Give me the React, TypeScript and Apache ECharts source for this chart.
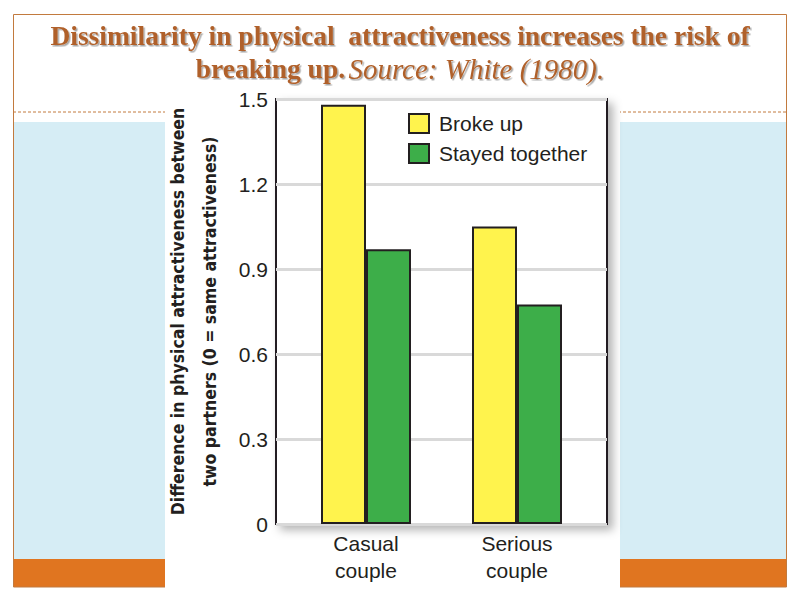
import React, { useEffect, useRef } from "react";
import * as echarts from "echarts";

const categories = ["Casual\ncouple", "Serious\ncouple"];
const brokeUp = [1.48, 1.05];
const stayedTogether = [0.97, 0.775];
const seriesNames = ["Broke up", "Stayed together"];
const yTicks = { min: 0, max: 1.5, interval: 0.3 };
const titleLine1 = "Dissimilarity in physical  attractiveness increases the risk of";
const titleLine2Bold = "breaking up.";
const titleLine2Italic = "Source: White (1980).";
const yAxisName = "Difference in physical attractiveness between\ntwo partners (0 = same attractiveness)";

const SANS = "'Liberation Sans', Arial, sans-serif";
const NARROW = "'DejaVu Sans Condensed', 'Liberation Sans', sans-serif";
const SERIF = "'Liberation Serif', 'DejaVu Serif', serif";
const TITLE_COLOR = "#b0612b";
const ORANGE_LINE = "#c27a3e";

export default function App() {
  const ref = useRef<HTMLDivElement>(null);
  useEffect(() => {
    if (!ref.current) return;
    const chart = echarts.init(ref.current, null, { renderer: "svg" });
    const shadow = {
      textShadowColor: "rgba(0,0,0,0.35)",
      textShadowOffsetX: 1.5,
      textShadowOffsetY: 1.5,
      textShadowBlur: 1.5,
    };
    chart.setOption({
      animation: false,
      backgroundColor: "#ffffff",
      graphic: [
        { type: "rect", z: -10, silent: true, shape: { x: 13, y: 122, width: 774, height: 437 }, style: { fill: "#d6edf5" } },
        { type: "rect", z: -10, silent: true, shape: { x: 13, y: 559, width: 774, height: 28 }, style: { fill: "#e07520" } },
        { type: "line", z: -10, silent: true, shape: { x1: 13, y1: 112, x2: 787, y2: 112 }, style: { stroke: ORANGE_LINE, lineWidth: 1, lineDash: [3, 2] } },
        { type: "rect", z: -10, silent: true, shape: { x: 13.5, y: 14.5, width: 773, height: 572.5 }, style: { fill: "none", stroke: ORANGE_LINE, lineWidth: 1 } },
        { type: "rect", z: -9, silent: true, shape: { x: 165, y: 88, width: 455, height: 512 }, style: { fill: "#ffffff" } },
        {
          type: "text",
          z: 10,
          silent: true,
          x: 400,
          y: 19,
          style: {
            text: `{b|${titleLine1}}\n{b|${titleLine2Bold}} {i|${titleLine2Italic}}`,
            align: "center",
            verticalAlign: "top",
            rich: {
              b: {
                fontFamily: SERIF,
                fontWeight: "bold",
                fontSize: 27.5,
                lineHeight: 33,
                fill: TITLE_COLOR,
                ...shadow,
              },
              i: {
                fontFamily: SERIF,
                fontStyle: "italic",
                fontSize: 29,
                lineHeight: 33,
                fill: TITLE_COLOR,
                ...shadow,
              },
            },
          },
        },
      ],
      legend: {
        left: 408,
        top: 113,
        orient: "vertical",
        itemWidth: 20,
        itemHeight: 19,
        itemGap: 9,
        padding: 0,
        icon: "rect",
        data: seriesNames,
        textStyle: { fontFamily: SANS, fontSize: 21, color: "#231f20", padding: [0, 0, 0, 5] },
      },
      grid: [
        {
          left: 276,
          top: 99,
          width: 331,
          height: 425,
          show: true,
          backgroundColor: "#ffffff",
          borderColor: "#231f20",
          borderWidth: 2,
          shadowColor: "rgba(0,0,0,0.3)",
          shadowBlur: 10,
          shadowOffsetX: 5,
          shadowOffsetY: 5,
        },
        { left: 290.5, top: 99, width: 302, height: 425 },
      ],
      xAxis: [
        { gridIndex: 0, type: "value", show: false, min: 0, max: 1 },
        {
          gridIndex: 1,
          type: "category",
          data: categories,
          axisLine: { show: false },
          axisTick: { show: false },
          axisLabel: {
            margin: 6,
            fontFamily: SANS,
            fontSize: 21,
            lineHeight: 27,
            color: "#231f20",
          },
        },
      ],
      yAxis: [
        {
          gridIndex: 0,
          type: "value",
          min: yTicks.min,
          max: yTicks.max,
          interval: yTicks.interval,
          axisLine: { show: false },
          axisTick: { show: false },
          axisLabel: {
            margin: 8,
            fontFamily: SANS,
            fontSize: 21,
            color: "#231f20",
            formatter: (v: number) => (v === 0 ? "0" : v.toFixed(1)),
          },
          splitLine: { show: true, lineStyle: { color: "#d9d9d9", width: 3 } },
          name: yAxisName,
          nameLocation: "middle",
          nameRotate: 90,
          nameGap: 50,
          nameTextStyle: {
            fontFamily: NARROW,
            fontWeight: "bold",
            fontSize: 17.5,
            lineHeight: 32,
            color: "#231f20",
          },
        },
        { gridIndex: 1, type: "value", min: yTicks.min, max: yTicks.max, show: false },
      ],
      series: [
        {
          name: seriesNames[0],
          type: "bar",
          xAxisIndex: 1,
          yAxisIndex: 1,
          data: brokeUp,
          barWidth: 45,
          barGap: "0%",
          itemStyle: { color: "#fff34d", borderColor: "#231f20", borderWidth: 2 },
        },
        {
          name: seriesNames[1],
          type: "bar",
          xAxisIndex: 1,
          yAxisIndex: 1,
          data: stayedTogether,
          barWidth: 45,
          barGap: "0%",
          itemStyle: { color: "#3dae49", borderColor: "#231f20", borderWidth: 2 },
        },
      ],
    });
    return () => chart.dispose();
  }, []);
  return <div ref={ref} style={{ position: "absolute", left: 0, top: 0, width: 800, height: 600 }} />;
}
